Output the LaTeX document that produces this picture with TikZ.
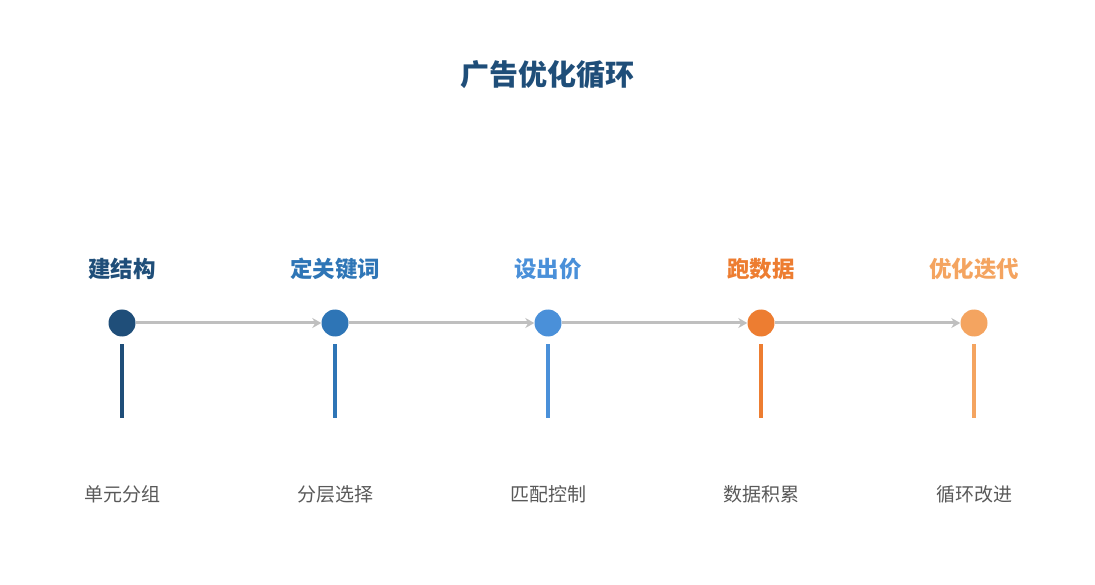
\documentclass[tikz,border=0pt]{standalone}
\usepackage{fontspec}
\newfontfamily\cjk{Noto Sans CJK SC}
\usetikzlibrary{arrows.meta}
\definecolor{cA}{HTML}{1F4E79}
\definecolor{cB}{HTML}{2E75B6}
\definecolor{cC}{HTML}{4A90D9}
\definecolor{cD}{HTML}{ED7D31}
\definecolor{cE}{HTML}{F4A460}
\definecolor{flow}{HTML}{BFBFBF}
\tikzset{
  dot/.style={circle, fill=#1, minimum size=27pt, inner sep=0pt},
  step/.style={font=\cjk\bfseries\fontsize{22.5pt}{26pt}\selectfont, text=#1},
  note/.style={font=\cjk\fontsize{19pt}{22pt}\selectfont, text=black!65},
  link/.style={flow, line width=3pt, -{Stealth[length=9pt,width=10pt]}},
  stem/.style={#1, line width=3.5pt}
}
\begin{document}
\begin{tikzpicture}[x=1pt,y=-1pt]
  \useasboundingbox (0,0) rectangle (1095,585);
  \node[font=\cjk\bfseries\fontsize{29pt}{33pt}\selectfont, text=cA] (title) at (547,75) {广告优化循环};
  % stages
  \foreach \n/\x/\c/\t/\s in {1/122/cA/建结构/单元分组, 2/335/cB/定关键词/分层选择,
      3/548/cC/设出价/匹配控制, 4/761/cD/跑数据/数据积累, 5/974/cE/优化迭代/循环改进} {
    \node[dot=\c] (d\n) at (\x,323) {};
    \node[step=\c] (h\n) at (\x,269) {\t};
    \node[note] (n\n) at (\x,494) {\s};
    \coordinate (a\n) at (\x,344);
    \coordinate (b\n) at (\x,418);
    \draw[stem=\c] (a\n) -- (b\n);
  }
  \foreach \i/\j in {1/2, 2/3, 3/4, 4/5}
    \draw[link] (d\i) -- (d\j);
\end{tikzpicture}
\end{document}
